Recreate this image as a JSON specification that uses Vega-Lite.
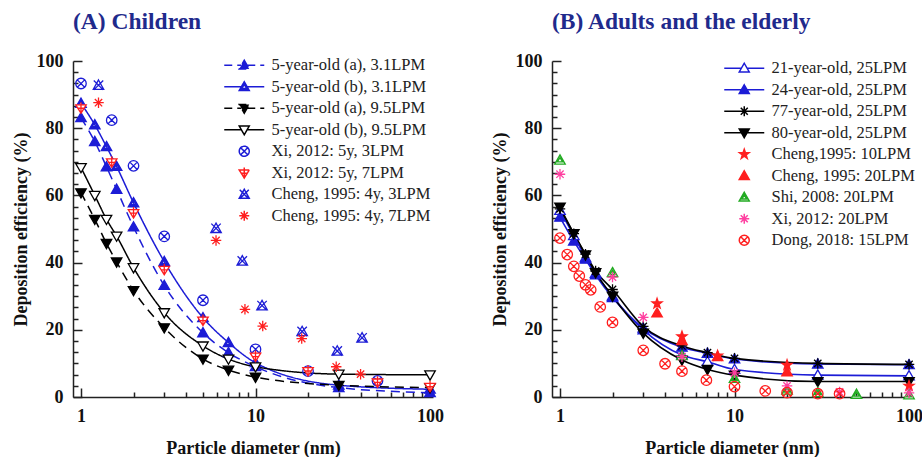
{
  "$schema": "https://vega.github.io/schema/vega-lite/v6.json",
  "padding": {"left": 12, "top": 9, "right": 0, "bottom": 0},
  "background": "white",
  "bounds": "flush",
  "spacing": 119,
  "datasets": {
    "a": [
      {"s": "5-year-old (a), 3.1LPM", "d": 1, "e": 83.1}, {"s": "5-year-old (a), 3.1LPM", "d": 1.2, "e": 76}, {"s": "5-year-old (a), 3.1LPM", "d": 1.4, "e": 68.5}, {"s": "5-year-old (a), 3.1LPM", "d": 1.6, "e": 61.8}, {"s": "5-year-old (a), 3.1LPM", "d": 2, "e": 50.6}, {"s": "5-year-old (a), 3.1LPM", "d": 3, "e": 33.2}, {"s": "5-year-old (a), 3.1LPM", "d": 5, "e": 19.1}, {"s": "5-year-old (a), 3.1LPM", "d": 7, "e": 13.2}, {"s": "5-year-old (a), 3.1LPM", "d": 10, "e": 9}, {"s": "5-year-old (a), 3.1LPM", "d": 30, "e": 2.8}, {"s": "5-year-old (a), 3.1LPM", "d": 100, "e": 1.3},
      {"s": "5-year-old (b), 3.1LPM", "d": 1, "e": 87.4}, {"s": "5-year-old (b), 3.1LPM", "d": 1.2, "e": 81}, {"s": "5-year-old (b), 3.1LPM", "d": 1.4, "e": 74.5}, {"s": "5-year-old (b), 3.1LPM", "d": 1.6, "e": 68.6}, {"s": "5-year-old (b), 3.1LPM", "d": 2, "e": 57.8}, {"s": "5-year-old (b), 3.1LPM", "d": 3, "e": 40.3}, {"s": "5-year-old (b), 3.1LPM", "d": 5, "e": 23.6}, {"s": "5-year-old (b), 3.1LPM", "d": 7, "e": 16.2}, {"s": "5-year-old (b), 3.1LPM", "d": 10, "e": 10.2}, {"s": "5-year-old (b), 3.1LPM", "d": 30, "e": 3.5}, {"s": "5-year-old (b), 3.1LPM", "d": 100, "e": 2.3},
      {"s": "5-year-old (a), 9.5LPM", "d": 1, "e": 60.8}, {"s": "5-year-old (a), 9.5LPM", "d": 1.2, "e": 52.9}, {"s": "5-year-old (a), 9.5LPM", "d": 1.4, "e": 45.7}, {"s": "5-year-old (a), 9.5LPM", "d": 1.6, "e": 40.2}, {"s": "5-year-old (a), 9.5LPM", "d": 2, "e": 31.7}, {"s": "5-year-old (a), 9.5LPM", "d": 3, "e": 20.6}, {"s": "5-year-old (a), 9.5LPM", "d": 5, "e": 11.3}, {"s": "5-year-old (a), 9.5LPM", "d": 7, "e": 8}, {"s": "5-year-old (a), 9.5LPM", "d": 10, "e": 5.9}, {"s": "5-year-old (a), 9.5LPM", "d": 30, "e": 3.5}, {"s": "5-year-old (a), 9.5LPM", "d": 100, "e": 2.8},
      {"s": "5-year-old (b), 9.5LPM", "d": 1, "e": 68.3}, {"s": "5-year-old (b), 9.5LPM", "d": 1.2, "e": 60}, {"s": "5-year-old (b), 9.5LPM", "d": 1.4, "e": 52.9}, {"s": "5-year-old (b), 9.5LPM", "d": 1.6, "e": 47.9}, {"s": "5-year-old (b), 9.5LPM", "d": 2, "e": 38.5}, {"s": "5-year-old (b), 9.5LPM", "d": 3, "e": 25.1}, {"s": "5-year-old (b), 9.5LPM", "d": 5, "e": 15.2}, {"s": "5-year-old (b), 9.5LPM", "d": 7, "e": 11.3}, {"s": "5-year-old (b), 9.5LPM", "d": 10, "e": 9}, {"s": "5-year-old (b), 9.5LPM", "d": 30, "e": 6.8}, {"s": "5-year-old (b), 9.5LPM", "d": 100, "e": 6.6},
      {"s": "Xi, 2012: 5y, 3LPM", "d": 1, "e": 93.3}, {"s": "Xi, 2012: 5y, 3LPM", "d": 1.5, "e": 82.4}, {"s": "Xi, 2012: 5y, 3LPM", "d": 2, "e": 68.8}, {"s": "Xi, 2012: 5y, 3LPM", "d": 3, "e": 47.8}, {"s": "Xi, 2012: 5y, 3LPM", "d": 5, "e": 28.8}, {"s": "Xi, 2012: 5y, 3LPM", "d": 10, "e": 14.2}, {"s": "Xi, 2012: 5y, 3LPM", "d": 20, "e": 7.7}, {"s": "Xi, 2012: 5y, 3LPM", "d": 50, "e": 4.8},
      {"s": "Xi, 2012: 5y, 7LPM", "d": 1, "e": 86.1}, {"s": "Xi, 2012: 5y, 7LPM", "d": 1.5, "e": 70}, {"s": "Xi, 2012: 5y, 7LPM", "d": 2, "e": 54.9}, {"s": "Xi, 2012: 5y, 7LPM", "d": 3, "e": 38}, {"s": "Xi, 2012: 5y, 7LPM", "d": 5, "e": 22.9}, {"s": "Xi, 2012: 5y, 7LPM", "d": 10, "e": 12.2}, {"s": "Xi, 2012: 5y, 7LPM", "d": 20, "e": 7.9}, {"s": "Xi, 2012: 5y, 7LPM", "d": 50, "e": 4.5}, {"s": "Xi, 2012: 5y, 7LPM", "d": 100, "e": 3.2},
      {"s": "Cheng, 1995: 4y, 3LPM", "d": 1.26, "e": 92.8}, {"s": "Cheng, 1995: 4y, 3LPM", "d": 5.94, "e": 50.2}, {"s": "Cheng, 1995: 4y, 3LPM", "d": 8.4, "e": 40.5}, {"s": "Cheng, 1995: 4y, 3LPM", "d": 10.9, "e": 27.2}, {"s": "Cheng, 1995: 4y, 3LPM", "d": 18.5, "e": 19.5}, {"s": "Cheng, 1995: 4y, 3LPM", "d": 29.4, "e": 13.7}, {"s": "Cheng, 1995: 4y, 3LPM", "d": 40.8, "e": 17.6},
      {"s": "Cheng, 1995: 4y, 7LPM", "d": 1.26, "e": 87.6}, {"s": "Cheng, 1995: 4y, 7LPM", "d": 5.94, "e": 46.6}, {"s": "Cheng, 1995: 4y, 7LPM", "d": 8.7, "e": 26.1}, {"s": "Cheng, 1995: 4y, 7LPM", "d": 11, "e": 21.1}, {"s": "Cheng, 1995: 4y, 7LPM", "d": 18.4, "e": 17.4}, {"s": "Cheng, 1995: 4y, 7LPM", "d": 29, "e": 9}, {"s": "Cheng, 1995: 4y, 7LPM", "d": 40, "e": 6.8}
    ],
    "b": [
      {"s": "21-year-old, 25LPM", "d": 1, "e": 55.5}, {"s": "21-year-old, 25LPM", "d": 1.2, "e": 48}, {"s": "21-year-old, 25LPM", "d": 1.4, "e": 41.5}, {"s": "21-year-old, 25LPM", "d": 1.6, "e": 36.8}, {"s": "21-year-old, 25LPM", "d": 2, "e": 30}, {"s": "21-year-old, 25LPM", "d": 3, "e": 20}, {"s": "21-year-old, 25LPM", "d": 5, "e": 12.5}, {"s": "21-year-old, 25LPM", "d": 7, "e": 10.5}, {"s": "21-year-old, 25LPM", "d": 10, "e": 8.2}, {"s": "21-year-old, 25LPM", "d": 30, "e": 6.5}, {"s": "21-year-old, 25LPM", "d": 100, "e": 6.3},
      {"s": "24-year-old, 25LPM", "d": 1, "e": 53.5}, {"s": "24-year-old, 25LPM", "d": 1.2, "e": 46.4}, {"s": "24-year-old, 25LPM", "d": 1.4, "e": 41}, {"s": "24-year-old, 25LPM", "d": 1.6, "e": 36.3}, {"s": "24-year-old, 25LPM", "d": 2, "e": 29.6}, {"s": "24-year-old, 25LPM", "d": 3, "e": 20.5}, {"s": "24-year-old, 25LPM", "d": 5, "e": 14.8}, {"s": "24-year-old, 25LPM", "d": 7, "e": 13}, {"s": "24-year-old, 25LPM", "d": 10, "e": 11.3}, {"s": "24-year-old, 25LPM", "d": 30, "e": 9.8}, {"s": "24-year-old, 25LPM", "d": 100, "e": 9.6},
      {"s": "77-year-old, 25LPM", "d": 1, "e": 56}, {"s": "77-year-old, 25LPM", "d": 1.2, "e": 48.6}, {"s": "77-year-old, 25LPM", "d": 1.4, "e": 42.5}, {"s": "77-year-old, 25LPM", "d": 1.6, "e": 37.5}, {"s": "77-year-old, 25LPM", "d": 2, "e": 32}, {"s": "77-year-old, 25LPM", "d": 3, "e": 21}, {"s": "77-year-old, 25LPM", "d": 5, "e": 15.2}, {"s": "77-year-old, 25LPM", "d": 7, "e": 13.2}, {"s": "77-year-old, 25LPM", "d": 10, "e": 11.5}, {"s": "77-year-old, 25LPM", "d": 30, "e": 10}, {"s": "77-year-old, 25LPM", "d": 100, "e": 9.7},
      {"s": "80-year-old, 25LPM", "d": 1, "e": 56.5}, {"s": "80-year-old, 25LPM", "d": 1.2, "e": 48.6}, {"s": "80-year-old, 25LPM", "d": 1.4, "e": 42.3}, {"s": "80-year-old, 25LPM", "d": 1.6, "e": 37}, {"s": "80-year-old, 25LPM", "d": 2, "e": 30}, {"s": "80-year-old, 25LPM", "d": 3, "e": 19}, {"s": "80-year-old, 25LPM", "d": 5, "e": 11}, {"s": "80-year-old, 25LPM", "d": 7, "e": 8.2}, {"s": "80-year-old, 25LPM", "d": 10, "e": 6.5}, {"s": "80-year-old, 25LPM", "d": 30, "e": 4.6}, {"s": "80-year-old, 25LPM", "d": 100, "e": 4.6},
      {"s": "Cheng,1995: 10LPM", "d": 3.6, "e": 27.8}, {"s": "Cheng,1995: 10LPM", "d": 5, "e": 18}, {"s": "Cheng,1995: 10LPM", "d": 8, "e": 12.3}, {"s": "Cheng,1995: 10LPM", "d": 20, "e": 9.5}, {"s": "Cheng,1995: 10LPM", "d": 100, "e": 3.3},
      {"s": "Cheng, 1995: 20LPM", "d": 3.6, "e": 25}, {"s": "Cheng, 1995: 20LPM", "d": 5, "e": 16.8}, {"s": "Cheng, 1995: 20LPM", "d": 8, "e": 12}, {"s": "Cheng, 1995: 20LPM", "d": 20, "e": 7.5},
      {"s": "Shi, 2008: 20LPM", "d": 1, "e": 70.5}, {"s": "Shi, 2008: 20LPM", "d": 2, "e": 37}, {"s": "Shi, 2008: 20LPM", "d": 5, "e": 12.3}, {"s": "Shi, 2008: 20LPM", "d": 10, "e": 5.5}, {"s": "Shi, 2008: 20LPM", "d": 20, "e": 2}, {"s": "Shi, 2008: 20LPM", "d": 30, "e": 1.3}, {"s": "Shi, 2008: 20LPM", "d": 50, "e": 0.8}, {"s": "Shi, 2008: 20LPM", "d": 100, "e": 0.6},
      {"s": "Xi, 2012: 20LPM", "d": 1, "e": 66.3}, {"s": "Xi, 2012: 20LPM", "d": 2, "e": 35.7}, {"s": "Xi, 2012: 20LPM", "d": 3, "e": 23.7}, {"s": "Xi, 2012: 20LPM", "d": 5, "e": 12}, {"s": "Xi, 2012: 20LPM", "d": 10, "e": 7.2}, {"s": "Xi, 2012: 20LPM", "d": 20, "e": 3.3}, {"s": "Xi, 2012: 20LPM", "d": 40, "e": 1.5}, {"s": "Xi, 2012: 20LPM", "d": 100, "e": 1.2},
      {"s": "Dong, 2018: 15LPM", "d": 1, "e": 47.3}, {"s": "Dong, 2018: 15LPM", "d": 1.1, "e": 42.4}, {"s": "Dong, 2018: 15LPM", "d": 1.2, "e": 38.9}, {"s": "Dong, 2018: 15LPM", "d": 1.29, "e": 36}, {"s": "Dong, 2018: 15LPM", "d": 1.4, "e": 33.4}, {"s": "Dong, 2018: 15LPM", "d": 1.5, "e": 31.9}, {"s": "Dong, 2018: 15LPM", "d": 1.7, "e": 26.8}, {"s": "Dong, 2018: 15LPM", "d": 2, "e": 22.2}, {"s": "Dong, 2018: 15LPM", "d": 3, "e": 13.9}, {"s": "Dong, 2018: 15LPM", "d": 4, "e": 9.9}, {"s": "Dong, 2018: 15LPM", "d": 5, "e": 7.7}, {"s": "Dong, 2018: 15LPM", "d": 6.9, "e": 5}, {"s": "Dong, 2018: 15LPM", "d": 10, "e": 3.1}, {"s": "Dong, 2018: 15LPM", "d": 15, "e": 1.8}, {"s": "Dong, 2018: 15LPM", "d": 20, "e": 1.3}, {"s": "Dong, 2018: 15LPM", "d": 30, "e": 1}, {"s": "Dong, 2018: 15LPM", "d": 40, "e": 1}
    ]
  },
  "hconcat": [
    {
      "width": 360, "height": 336,
      "title": {"text": "(A) Children"},
      "data": {"name": "a"},
      "layer": [
        {
          "transform": [{"filter": {"field": "s", "oneOf": ["5-year-old (a), 3.1LPM", "5-year-old (b), 3.1LPM", "5-year-old (a), 9.5LPM", "5-year-old (b), 9.5LPM"]}}],
          "mark": {"type": "line", "interpolate": "monotone", "strokeWidth": 1.5},
          "encoding": {
            "x": {"field": "d", "type": "quantitative", "title": "Particle diameter (nm)", "scale": {"type": "log", "domain": [0.9, 104]},
              "axis": {"orient": "bottom", "values": [1, 10, 100], "format": "d", "tickSize": -9, "labelPadding": 19, "titlePadding": 14}},
            "y": {"field": "e", "type": "quantitative", "title": "Deposition efficiency (%)", "scale": {"domain": [0, 100]},
              "axis": {"orient": "left", "values": [0, 20, 40, 60, 80, 100], "format": "d", "tickSize": -9, "labelPadding": 19, "titlePadding": 6}},
            "stroke": {"field": "s", "type": "nominal", "legend": null, "scale": {"domain": ["5-year-old (a), 3.1LPM", "5-year-old (b), 3.1LPM", "5-year-old (a), 9.5LPM", "5-year-old (b), 9.5LPM", "Xi, 2012: 5y, 3LPM", "Xi, 2012: 5y, 7LPM", "Cheng, 1995: 4y, 3LPM", "Cheng, 1995: 4y, 7LPM"], "range": ["#1c1cd6", "#1c1cd6", "#000000", "#000000", "#1c1cd6", "#ff1f1f", "#1c1cd6", "#ff1f1f"]}},
            "strokeDash": {"field": "s", "type": "nominal", "legend": null, "scale": {"domain": ["5-year-old (a), 3.1LPM", "5-year-old (b), 3.1LPM", "5-year-old (a), 9.5LPM", "5-year-old (b), 9.5LPM", "Xi, 2012: 5y, 3LPM", "Xi, 2012: 5y, 7LPM", "Cheng, 1995: 4y, 3LPM", "Cheng, 1995: 4y, 7LPM"], "range": [[9,6],[1,0],[9,6],[1,0],[1,0],[1,0],[1,0],[1,0]]}}
          }
        },
        {
          "mark": {"type": "point", "filled": true, "opacity": 1, "size": 110, "strokeWidth": 1.3},
          "encoding": {
            "x": {"field": "d", "type": "quantitative", "scale": {"type": "log", "domain": [0.9, 104]}, "axis": null},
            "y": {"field": "e", "type": "quantitative", "scale": {"domain": [0, 100]}, "axis": null},
            "stroke": {"field": "s", "type": "nominal", "legend": null, "scale": {"domain": ["5-year-old (a), 3.1LPM", "5-year-old (b), 3.1LPM", "5-year-old (a), 9.5LPM", "5-year-old (b), 9.5LPM", "Xi, 2012: 5y, 3LPM", "Xi, 2012: 5y, 7LPM", "Cheng, 1995: 4y, 3LPM", "Cheng, 1995: 4y, 7LPM"], "range": ["#1c1cd6", "#1c1cd6", "#000000", "#000000", "#1c1cd6", "#ff1f1f", "#1c1cd6", "#ff1f1f"]}},
            "fill": {"field": "s", "type": "nominal", "legend": null, "scale": {"domain": ["5-year-old (a), 3.1LPM", "5-year-old (b), 3.1LPM", "5-year-old (a), 9.5LPM", "5-year-old (b), 9.5LPM", "Xi, 2012: 5y, 3LPM", "Xi, 2012: 5y, 7LPM", "Cheng, 1995: 4y, 3LPM", "Cheng, 1995: 4y, 7LPM"], "range": ["#1c1cd6", "#1c1cd6", "#000000", "#ffffff", "transparent", "#ffffff", "transparent", "transparent"]}},
            "shape": {"field": "s", "type": "nominal", "legend": null, "scale": {"domain": ["5-year-old (a), 3.1LPM", "5-year-old (b), 3.1LPM", "5-year-old (a), 9.5LPM", "5-year-old (b), 9.5LPM", "Xi, 2012: 5y, 3LPM", "Xi, 2012: 5y, 7LPM", "Cheng, 1995: 4y, 3LPM", "Cheng, 1995: 4y, 7LPM"], "range": [
              "M0,-1L1,0.75L-1,0.75Z",
              "M0,-1L1,0.75L-1,0.75ZM0,-0.45L-0.5,0.35L0.5,0.35Z",
              "M0,1L1,-0.75L-1,-0.75Z",
              "M0,1L1,-0.75L-1,-0.75Z",
              "M-1,0A1,1 0 1,0 1,0A1,1 0 1,0 -1,0ZM-0.7,-0.7L0.7,0.7M-0.7,0.7L0.7,-0.7",
              "M-1,-0.55L1,-0.55L0,1.05ZM0,-1.05V1.05M-0.6,0.1H0.6",
              "M0,-1L1,0.8L-1,0.8ZM-0.9,-0.9L0.9,0.9M0.9,-0.9L-0.9,0.9",
              "M0,-1V1M-1,0H1M-0.7,-0.7L0.7,0.7M-0.7,0.7L0.7,-0.7"]}}
          }
        },
        {
          "transform": [{"filter": "false"}],
          "mark": {"type": "point", "filled": true, "opacity": 1, "strokeWidth": 1.5},
          "encoding": {
            "x": {"field": "d", "type": "quantitative", "title": null, "scale": {"type": "log", "domain": [0.9, 104]},
              "axis": {"orient": "top", "offset": -336, "values": [2, 3, 4, 5, 6, 7, 8, 9, 20, 30, 40, 50, 60, 70, 80, 90], "labels": false, "domain": false, "tickSize": 5}},
            "y": {"field": "e", "type": "quantitative", "title": null, "scale": {"domain": [0, 100]},
              "axis": {"orient": "right", "offset": -360, "values": [3.333, 6.667, 10, 13.333, 16.667, 23.333, 26.667, 30, 33.333, 36.667, 43.333, 46.667, 50, 53.333, 56.667, 63.333, 66.667, 70, 73.333, 76.667, 83.333, 86.667, 90, 93.333, 96.667], "labels": false, "domain": false, "tickSize": 5}},
            "stroke": {"field": "s", "type": "nominal", "title": null, "legend": {"orient": "none", "legendX": 163, "legendY": -4}, "scale": {"domain": ["5-year-old (a), 3.1LPM", "5-year-old (b), 3.1LPM", "5-year-old (a), 9.5LPM", "5-year-old (b), 9.5LPM", "Xi, 2012: 5y, 3LPM", "Xi, 2012: 5y, 7LPM", "Cheng, 1995: 4y, 3LPM", "Cheng, 1995: 4y, 7LPM"], "range": ["#1c1cd6", "#1c1cd6", "#000000", "#000000", "#1c1cd6", "#ff1f1f", "#1c1cd6", "#ff1f1f"]}},
            "fill": {"field": "s", "type": "nominal", "title": null, "legend": {"orient": "none", "legendX": 163, "legendY": -4}, "scale": {"domain": ["5-year-old (a), 3.1LPM", "5-year-old (b), 3.1LPM", "5-year-old (a), 9.5LPM", "5-year-old (b), 9.5LPM", "Xi, 2012: 5y, 3LPM", "Xi, 2012: 5y, 7LPM", "Cheng, 1995: 4y, 3LPM", "Cheng, 1995: 4y, 7LPM"], "range": ["#1c1cd6", "#1c1cd6", "#000000", "#ffffff", "transparent", "#ffffff", "transparent", "transparent"]}},
            "strokeDash": {"field": "s", "type": "nominal", "title": null, "legend": {"orient": "none", "legendX": 163, "legendY": -4}, "scale": {"domain": ["5-year-old (a), 3.1LPM", "5-year-old (b), 3.1LPM", "5-year-old (a), 9.5LPM", "5-year-old (b), 9.5LPM", "Xi, 2012: 5y, 3LPM", "Xi, 2012: 5y, 7LPM", "Cheng, 1995: 4y, 3LPM", "Cheng, 1995: 4y, 7LPM"], "range": [[8,5],[1,0],[8,5],[1,0],[1,0],[1,0],[1,0],[1,0]]}},
            "shape": {"field": "s", "type": "nominal", "title": null, "legend": {"orient": "none", "legendX": 163, "legendY": -4}, "scale": {"domain": ["5-year-old (a), 3.1LPM", "5-year-old (b), 3.1LPM", "5-year-old (a), 9.5LPM", "5-year-old (b), 9.5LPM", "Xi, 2012: 5y, 3LPM", "Xi, 2012: 5y, 7LPM", "Cheng, 1995: 4y, 3LPM", "Cheng, 1995: 4y, 7LPM"], "range": [
              "M-4,0H-0.6M0.6,0H4M0,-1L1,0.75L-1,0.75Z",
              "M-4,0H-0.6M0.6,0H4M0,-1L1,0.75L-1,0.75ZM0,-0.45L-0.5,0.35L0.5,0.35Z",
              "M-4,0H-0.6M0.6,0H4M0,1L1,-0.75L-1,-0.75Z",
              "M-4,0H-0.6M0.6,0H4M0,1L1,-0.75L-1,-0.75Z",
              "M-1,0A1,1 0 1,0 1,0A1,1 0 1,0 -1,0ZM-0.7,-0.7L0.7,0.7M-0.7,0.7L0.7,-0.7",
              "M-1,-0.55L1,-0.55L0,1.05ZM0,-1.05V1.05M-0.6,0.1H0.6",
              "M0,-1L1,0.8L-1,0.8ZM-0.9,-0.9L0.9,0.9M0.9,-0.9L-0.9,0.9",
              "M0,-1V1M-1,0H1M-0.7,-0.7L0.7,0.7M-0.7,0.7L0.7,-0.7"]}}
          }
        }
      ],
      "resolve": {"scale": {"stroke": "independent", "fill": "independent", "shape": "independent", "strokeDash": "independent"}, "axis": {"x": "independent", "y": "independent"}}
    },
    {
      "width": 360, "height": 336,
      "title": {"text": "(B) Adults and the elderly"},
      "data": {"name": "b"},
      "layer": [
        {
          "transform": [{"filter": {"field": "s", "oneOf": ["21-year-old, 25LPM", "24-year-old, 25LPM", "77-year-old, 25LPM", "80-year-old, 25LPM"]}}],
          "mark": {"type": "line", "interpolate": "monotone", "strokeWidth": 1.6},
          "encoding": {
            "x": {"field": "d", "type": "quantitative", "title": "Particle diameter (nm)", "scale": {"type": "log", "domain": [0.9, 104]},
              "axis": {"orient": "bottom", "values": [1, 10, 100], "format": "d", "tickSize": -9, "labelPadding": 19, "titlePadding": 14}},
            "y": {"field": "e", "type": "quantitative", "title": "Deposition efficiency (%)", "scale": {"domain": [0, 100]},
              "axis": {"orient": "left", "values": [0, 20, 40, 60, 80, 100], "format": "d", "tickSize": -9, "labelPadding": 19, "titlePadding": 6}},
            "stroke": {"field": "s", "type": "nominal", "legend": null, "scale": {"domain": ["21-year-old, 25LPM", "24-year-old, 25LPM", "77-year-old, 25LPM", "80-year-old, 25LPM", "Cheng,1995: 10LPM", "Cheng, 1995: 20LPM", "Shi, 2008: 20LPM", "Xi, 2012: 20LPM", "Dong, 2018: 15LPM"], "range": ["#1c1cd6", "#1c1cd6", "#000000", "#000000", "#ff1f1f", "#ff1f1f", "#22aa22", "#ff3fa0", "#ff1f1f"]}}
          }
        },
        {
          "mark": {"type": "point", "filled": true, "opacity": 1, "size": 110, "strokeWidth": 1.3},
          "encoding": {
            "x": {"field": "d", "type": "quantitative", "scale": {"type": "log", "domain": [0.9, 104]}, "axis": null},
            "y": {"field": "e", "type": "quantitative", "scale": {"domain": [0, 100]}, "axis": null},
            "stroke": {"field": "s", "type": "nominal", "legend": null, "scale": {"domain": ["21-year-old, 25LPM", "24-year-old, 25LPM", "77-year-old, 25LPM", "80-year-old, 25LPM", "Cheng,1995: 10LPM", "Cheng, 1995: 20LPM", "Shi, 2008: 20LPM", "Xi, 2012: 20LPM", "Dong, 2018: 15LPM"], "range": ["#1c1cd6", "#1c1cd6", "#000000", "#000000", "#ff1f1f", "#ff1f1f", "#22aa22", "#ff3fa0", "#ff1f1f"]}},
            "fill": {"field": "s", "type": "nominal", "legend": null, "scale": {"domain": ["21-year-old, 25LPM", "24-year-old, 25LPM", "77-year-old, 25LPM", "80-year-old, 25LPM", "Cheng,1995: 10LPM", "Cheng, 1995: 20LPM", "Shi, 2008: 20LPM", "Xi, 2012: 20LPM", "Dong, 2018: 15LPM"], "range": ["#ffffff", "#1c1cd6", "transparent", "#000000", "#ff1f1f", "#ff1f1f", "#ffffff", "transparent", "transparent"]}},
            "shape": {"field": "s", "type": "nominal", "legend": null, "scale": {"domain": ["21-year-old, 25LPM", "24-year-old, 25LPM", "77-year-old, 25LPM", "80-year-old, 25LPM", "Cheng,1995: 10LPM", "Cheng, 1995: 20LPM", "Shi, 2008: 20LPM", "Xi, 2012: 20LPM", "Dong, 2018: 15LPM"], "range": [
              "M0,-1L1,0.75L-1,0.75Z",
              "M0,-1L1,0.75L-1,0.75Z",
              "M0,-1V1M-1,0H1M-0.7,-0.7L0.7,0.7M-0.7,0.7L0.7,-0.7",
              "M0,1L1,-0.75L-1,-0.75Z",
              "M0,-1L0.235,-0.324L0.951,-0.309L0.38,0.124L0.588,0.809L0,0.4L-0.588,0.809L-0.38,0.124L-0.951,-0.309L-0.235,-0.324Z",
              "M0,-1L1,0.75L-1,0.75Z",
              "M0,-1L1,0.75L-1,0.75ZM0,-0.45L-0.5,0.35L0.5,0.35Z",
              "M0,-1V1M-1,0H1M-0.7,-0.7L0.7,0.7M-0.7,0.7L0.7,-0.7",
              "M-1,0A1,1 0 1,0 1,0A1,1 0 1,0 -1,0ZM-0.7,-0.7L0.7,0.7M-0.7,0.7L0.7,-0.7"]}}
          }
        },
        {
          "transform": [{"filter": "false"}],
          "mark": {"type": "point", "filled": true, "opacity": 1, "strokeWidth": 1.5},
          "encoding": {
            "x": {"field": "d", "type": "quantitative", "title": null, "scale": {"type": "log", "domain": [0.9, 104]},
              "axis": {"orient": "top", "offset": -336, "values": [2, 3, 4, 5, 6, 7, 8, 9, 20, 30, 40, 50, 60, 70, 80, 90], "labels": false, "domain": false, "tickSize": 5}},
            "y": {"field": "e", "type": "quantitative", "title": null, "scale": {"domain": [0, 100]},
              "axis": {"orient": "right", "offset": -360, "values": [3.333, 6.667, 10, 13.333, 16.667, 23.333, 26.667, 30, 33.333, 36.667, 43.333, 46.667, 50, 53.333, 56.667, 63.333, 66.667, 70, 73.333, 76.667, 83.333, 86.667, 90, 93.333, 96.667], "labels": false, "domain": false, "tickSize": 5}},
            "stroke": {"field": "s", "type": "nominal", "title": null, "legend": {"orient": "none", "legendX": 184, "legendY": -1}, "scale": {"domain": ["21-year-old, 25LPM", "24-year-old, 25LPM", "77-year-old, 25LPM", "80-year-old, 25LPM", "Cheng,1995: 10LPM", "Cheng, 1995: 20LPM", "Shi, 2008: 20LPM", "Xi, 2012: 20LPM", "Dong, 2018: 15LPM"], "range": ["#1c1cd6", "#1c1cd6", "#000000", "#000000", "#ff1f1f", "#ff1f1f", "#22aa22", "#ff3fa0", "#ff1f1f"]}},
            "fill": {"field": "s", "type": "nominal", "title": null, "legend": {"orient": "none", "legendX": 184, "legendY": -1}, "scale": {"domain": ["21-year-old, 25LPM", "24-year-old, 25LPM", "77-year-old, 25LPM", "80-year-old, 25LPM", "Cheng,1995: 10LPM", "Cheng, 1995: 20LPM", "Shi, 2008: 20LPM", "Xi, 2012: 20LPM", "Dong, 2018: 15LPM"], "range": ["#ffffff", "#1c1cd6", "transparent", "#000000", "#ff1f1f", "#ff1f1f", "#ffffff", "transparent", "transparent"]}},
            "shape": {"field": "s", "type": "nominal", "title": null, "legend": {"orient": "none", "legendX": 184, "legendY": -1}, "scale": {"domain": ["21-year-old, 25LPM", "24-year-old, 25LPM", "77-year-old, 25LPM", "80-year-old, 25LPM", "Cheng,1995: 10LPM", "Cheng, 1995: 20LPM", "Shi, 2008: 20LPM", "Xi, 2012: 20LPM", "Dong, 2018: 15LPM"], "range": [
              "M-4,0H-0.6M0.6,0H4M0,-1L1,0.75L-1,0.75Z",
              "M-4,0H-0.6M0.6,0H4M0,-1L1,0.75L-1,0.75Z",
              "M-4,0H4M0,-1V1M-0.7,-0.7L0.7,0.7M-0.7,0.7L0.7,-0.7",
              "M-4,0H-0.6M0.6,0H4M0,1L1,-0.75L-1,-0.75Z",
              "M0,-1L0.235,-0.324L0.951,-0.309L0.38,0.124L0.588,0.809L0,0.4L-0.588,0.809L-0.38,0.124L-0.951,-0.309L-0.235,-0.324Z",
              "M0,-1L1,0.75L-1,0.75Z",
              "M0,-1L1,0.75L-1,0.75ZM0,-0.45L-0.5,0.35L0.5,0.35Z",
              "M0,-1V1M-1,0H1M-0.7,-0.7L0.7,0.7M-0.7,0.7L0.7,-0.7",
              "M-1,0A1,1 0 1,0 1,0A1,1 0 1,0 -1,0ZM-0.7,-0.7L0.7,0.7M-0.7,0.7L0.7,-0.7"]}}
          }
        }
      ],
      "resolve": {"scale": {"stroke": "independent", "fill": "independent", "shape": "independent"}, "axis": {"x": "independent", "y": "independent"}}
    }
  ],
  "config": {
    "font": "Liberation Serif",
    "view": {"stroke": null},
    "title": {"font": "Liberation Serif", "fontSize": 23.5, "fontWeight": "bold", "color": "#1f2a8c", "anchor": "start", "frame": "group", "offset": 19},
    "axis": {"labelFont": "Liberation Serif", "labelFontSize": 18, "labelFontWeight": "bold", "labelColor": "#111111", "titleFont": "Liberation Serif", "titleFontSize": 18, "titleFontWeight": "bold", "titleColor": "#111111", "domainColor": "#222222", "domainWidth": 1.5, "tickColor": "#222222", "tickWidth": 1.5, "grid": false, "labelFlush": false, "labelOverlap": false},
    "legend": {"labelFont": "Liberation Serif", "labelFontSize": 16.5, "labelColor": "#222222", "symbolSize": 100, "symbolStrokeWidth": 1.5, "labelOffset": 19, "rowPadding": 4.5, "labelLimit": 300}
  }
}
